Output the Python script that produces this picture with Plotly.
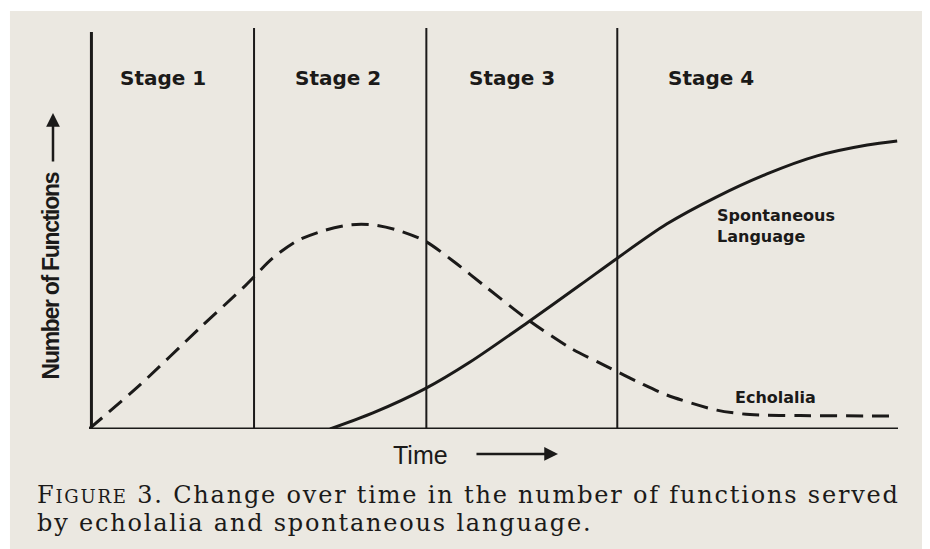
import plotly.graph_objects as go

# ---- data (time in arbitrary units 0-100, number of functions 0-100) ----
echolalia_time = [0, 6.3, 13.7, 19.3, 22.7, 25.7, 28.9, 32.3, 35.1, 38.1, 41.5, 45.0,
                  49.2, 54.3, 59.5, 64.4, 68.1, 71.4, 77.6, 81.7, 87.9, 99.9]
echolalia_funcs = [0, 11.0, 25.2, 35.7, 42.6, 46.9, 49.4, 50.9, 50.9, 49.6, 46.9, 41.9,
                   35.2, 27.2, 20.2, 15.2, 11.5, 8.5, 4.7, 3.6, 3.35, 3.25]

spont_time = [29.8, 35.1, 41.5, 47.1, 54.3, 60.7, 65.3, 71.4, 77.6, 83.8, 90.0, 96.2, 99.9]
spont_funcs = [0, 4.0, 10.0, 16.7, 26.7, 35.9, 42.6, 51.1, 57.9, 63.6, 68.1, 70.8, 71.8]

stage_bounds = [20.4, 41.7, 65.3]
stage_labels = ["Stage 1", "Stage 2", "Stage 3", "Stage 4"]
series_labels = ["Spontaneous<br>Language", "Echolalia"]
x_title = "Time"
y_title = "Number of Functions"
caption_line1 = "F<span style='font-size:18px'>IGURE</span> 3. Change over time in the number of functions served"
caption_line2 = "by echolalia and spontaneous language."

INK = "#1b1a19"
PAPER = "#ebe8e1"

fig = go.Figure()

fig.add_trace(go.Scatter(
    x=echolalia_time, y=echolalia_funcs, mode="lines",
    line=dict(color=INK, width=3, dash="17px,9px", shape="spline", smoothing=0.8),
    hoverinfo="skip", showlegend=False))
fig.add_trace(go.Scatter(
    x=spont_time, y=spont_funcs, mode="lines",
    line=dict(color=INK, width=3, shape="spline", smoothing=0.8),
    hoverinfo="skip", showlegend=False))

shapes = []
# photographed page background
shapes.append(dict(type="rect", xref="paper", yref="paper", x0=-0.0977, x1=1.06,
                   y0=-0.30, y1=1.0424, fillcolor=PAPER, line=dict(width=0), layer="below"))
# axes
shapes.append(dict(type="line", x0=0, x1=100, y0=0, y1=0, line=dict(color=INK, width=3)))
shapes.append(dict(type="line", x0=0.3, x1=0.3, y0=0, y1=99, line=dict(color=INK, width=3)))
for b in stage_bounds:
    shapes.append(dict(type="line", x0=b, x1=b, y0=0, y1=100, line=dict(color=INK, width=2)))

stage_x = [9.1, 30.8, 52.3, 76.9]
ann = []
for lab, sx in zip(stage_labels, stage_x):
    ann.append(dict(x=sx, y=87.5, text=lab, showarrow=False,
                    font=dict(family="DejaVu Sans", size=20, color=INK, weight="bold")))

ann.append(dict(x=77.4, y=50.6, text=series_labels[0], showarrow=False, xanchor="left",
                align="left", font=dict(family="DejaVu Sans", size=16, color=INK, weight="bold")))
ann.append(dict(x=79.6, y=7.8, text=series_labels[1], showarrow=False, xanchor="left",
                font=dict(family="DejaVu Sans", size=16, color=INK, weight="bold")))

# x title with arrow (paper coords, below the axis)
ann.append(dict(xref="paper", yref="paper", x=0.410, y=-0.0648, xanchor="center", yanchor="middle",
                text=x_title, showarrow=False,
                font=dict(family="Liberation Sans, Arial", size=25, color=INK)))
ann.append(dict(xref="paper", yref="paper", x=0.5797, y=-0.0623, ax=-83, ay=0, text="",
                showarrow=True, arrowhead=2, arrowsize=1.1, arrowwidth=2.5, arrowcolor=INK))

# y title with arrow
ann.append(dict(xref="paper", yref="paper", x=-0.0475, y=0.382, xanchor="center", yanchor="middle",
                text="<span style='letter-spacing:-1.3px'>" + y_title + "</span>", textangle=-90,
                showarrow=False,
                font=dict(family="Liberation Sans, Arial", size=23, color=INK, weight="bold")))
ann.append(dict(xref="paper", yref="paper", x=-0.0445, y=0.788, ax=0, ay=50, text="",
                showarrow=True, arrowhead=2, arrowsize=1.1, arrowwidth=2.5, arrowcolor=INK))

# caption
cap_font = dict(family="DejaVu Serif", size=24, color=INK)
ann.append(dict(xref="paper", yref="paper", x=-0.067, y=-0.1646, xanchor="left", yanchor="middle",
                text="<span style='letter-spacing:1.8px'>" + caption_line1 + "</span>",
                showarrow=False, font=cap_font))
ann.append(dict(xref="paper", yref="paper", x=-0.067, y=-0.2344, xanchor="left", yanchor="middle",
                text="<span style='letter-spacing:1.8px'>" + caption_line2 + "</span>",
                showarrow=False, font=cap_font))

fig.update_layout(
    width=922, height=541,
    margin=dict(l=81, r=32, t=20, b=120),
    paper_bgcolor="white", plot_bgcolor=PAPER,
    xaxis=dict(range=[0, 100], visible=False, fixedrange=True),
    yaxis=dict(range=[0, 100], visible=False, fixedrange=True),
    shapes=shapes, annotations=ann, showlegend=False)

fig.write_html("out.html")
